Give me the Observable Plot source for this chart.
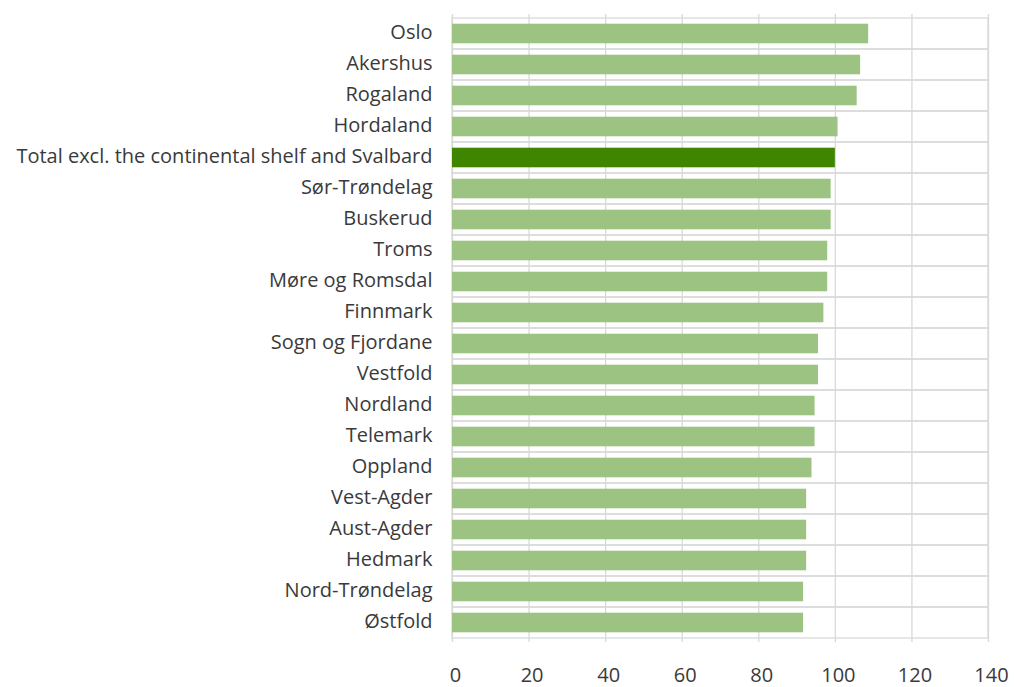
<!DOCTYPE html>
<html>
<head>
<meta charset="utf-8">
<script src="https://cdn.jsdelivr.net/npm/d3@7"></script>
<script src="https://cdn.jsdelivr.net/npm/@observablehq/plot@0.6"></script>
<style>
  html, body { margin: 0; padding: 0; background: #fff; }
  svg { display: block; }
</style>
</head>
<body>
<div id="chart"></div>
<script>
const regions = [
  "Oslo", "Akershus", "Rogaland", "Hordaland",
  "Total excl. the continental shelf and Svalbard",
  "Sør-Trøndelag", "Buskerud", "Troms", "Møre og Romsdal", "Finnmark",
  "Sogn og Fjordane", "Vestfold", "Nordland", "Telemark", "Oppland",
  "Vest-Agder", "Aust-Agder", "Hedmark", "Nord-Trøndelag", "Østfold"
];
const values = [
  108.7, 106.6, 105.7, 100.7, 100,
  98.9, 98.9, 98, 98, 97,
  95.6, 95.6, 94.7, 94.7, 93.9,
  92.5, 92.5, 92.5, 91.7, 91.7
];
const highlight = "Total excl. the continental shelf and Svalbard";
const xTicks = [0, 20, 40, 60, 80, 100, 120, 140];

const data = regions.map((r, i) => ({region: r, value: values[i]}));

const chart = Plot.plot({
  width: 1018,
  height: 687,
  marginLeft: 452,
  marginRight: 30,
  marginTop: 14,
  marginBottom: 45,
  style: {fontFamily: "'Open Sans', sans-serif", fontSize: "20px", color: "#3a3a3a"},
  x: {domain: [0, 140], label: null},
  y: {domain: regions, padding: 0, label: null},
  marks: [
    Plot.ruleX(xTicks, {stroke: "#d9d9d9", strokeWidth: 1.3}),
    Plot.barX(regions, {x1: 0, x2: 140, y: d => d, fill: "none", stroke: "#d9d9d9", strokeWidth: 1.3}),
    Plot.barX(data, {
      x: "value", y: "region",
      insetTop: 5.7, insetBottom: 5.7,
      fill: d => d.region === highlight ? "#3f8500" : "#9dc383"
    }),
    Plot.axisX({ticks: xTicks, tickSize: 0, tickPadding: 25, dx: 3, fontSize: 20, label: null}),
    Plot.axisY({tickSize: 0, tickPadding: 20, dy: -1, fontSize: 20, label: null})
  ]
});
document.getElementById("chart").appendChild(chart);
</script>
</body>
</html>
